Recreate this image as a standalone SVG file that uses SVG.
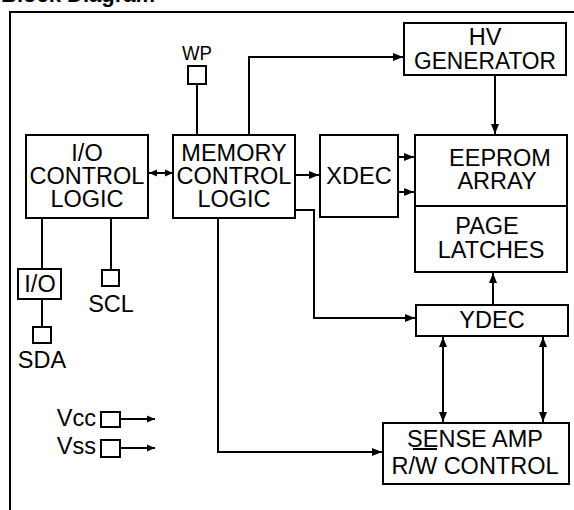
<svg xmlns="http://www.w3.org/2000/svg" width="574" height="510" viewBox="0 0 574 510">
<style>
.b{fill:#fff;stroke:#000;stroke-width:2}
.l{fill:none;stroke:#000;stroke-width:2}
text{font-family:"Liberation Sans",Arial,sans-serif;font-size:23.5px;fill:#000;text-anchor:middle}
.t{font-weight:bold;font-size:22px;text-anchor:start}
</style>
<defs>
<marker id="a" markerUnits="userSpaceOnUse" markerWidth="10" markerHeight="10" viewBox="0 0 10 10" refX="10" refY="5" orient="auto-start-reverse"><path d="M0,1 L10,5 L0,9 Z" fill="#000"/></marker>
<marker id="s" markerUnits="userSpaceOnUse" markerWidth="8" markerHeight="8" viewBox="0 0 8 8" refX="8" refY="4" orient="auto-start-reverse"><path d="M0,0.5 L8,4 L0,7.5 Z" fill="#000"/></marker>
</defs>
<text class="t" x="1" y="2">Block Diagram</text>
<path class="l" d="M10 510 V12 H574" stroke-width="2.5"/>
<g id="connectors">
<path class="l" d="M197 84 V135"/>
<path class="l" d="M249 135 V57 H403" marker-end="url(#a)"/>
<path class="l" d="M495 75 V134" marker-end="url(#a)"/>
<path class="l" d="M149 173 H173" marker-start="url(#s)" marker-end="url(#s)"/>
<path class="l" d="M295 175 H319" marker-end="url(#a)"/>
<path class="l" d="M295 210 H314 V318 H415" marker-end="url(#a)"/>
<path class="l" d="M398 157 H414" marker-end="url(#a)"/>
<path class="l" d="M398 192 H414" marker-end="url(#a)"/>
<path class="l" d="M493 305 V273" marker-end="url(#a)"/>
<path class="l" d="M443 337 V422" marker-start="url(#a)" marker-end="url(#a)"/>
<path class="l" d="M543 337 V422" marker-start="url(#a)" marker-end="url(#a)"/>
<path class="l" d="M218 218 V452 H382" marker-end="url(#a)"/>
<path class="l" d="M42 218 V269 M42 299 V327"/>
<path class="l" d="M111 218 V270"/>
<path class="l" d="M120 419 H155" marker-end="url(#s)"/>
<path class="l" d="M120 448 H155" marker-end="url(#s)"/>
</g>
<g id="wp"><text x="197" y="60" style="font-size:21px" textLength="30" lengthAdjust="spacingAndGlyphs">WP</text><rect class="b" x="188" y="66" width="18" height="18"/></g>
<g id="hv"><rect class="b" x="404" y="23" width="162" height="52"/><text x="485" y="45">HV</text><text x="485" y="69" textLength="142" lengthAdjust="spacingAndGlyphs">GENERATOR</text></g>
<g id="ioctl"><rect class="b" x="26" y="135" width="122" height="83"/><text x="87" y="161">I/O</text><text x="87" y="184">CONTROL</text><text x="87" y="207">LOGIC</text></g>
<g id="memctl"><rect class="b" x="173" y="135" width="122" height="83"/><text x="234" y="161">MEMORY</text><text x="234" y="184">CONTROL</text><text x="234" y="207">LOGIC</text></g>
<g id="xdec"><rect class="b" x="320" y="135" width="78" height="82"/><text x="359" y="184">XDEC</text></g>
<g id="eeprom"><rect class="b" x="415" y="135" width="152" height="137"/><path class="l" d="M415 206 H567"/><text x="500" y="166">EEPROM</text><text x="497" y="189">ARRAY</text><text x="487" y="234">PAGE</text><text x="491" y="258">LATCHES</text></g>
<g id="ydec"><rect class="b" x="416" y="305" width="152" height="31"/><text x="492" y="328">YDEC</text></g>
<g id="sense"><rect class="b" x="383" y="423" width="186" height="61"/><text x="475" y="447">SENSE AMP</text><text x="475" y="474">R/W CONTROL</text><path class="l" d="M413 449 H437"/></g>
<g id="io"><rect class="b" x="18" y="269" width="43" height="30"/><text x="40" y="292">I/O</text></g>
<g id="sda"><rect class="b" x="33" y="327" width="18" height="16"/><text x="42" y="368">SDA</text></g>
<g id="scl"><rect class="b" x="102" y="270" width="17" height="16"/><text x="111" y="312">SCL</text></g>
<g id="vcc"><text x="96" y="426" style="text-anchor:end">Vcc</text><rect class="b" x="101" y="412" width="19" height="15"/></g>
<g id="vss"><text x="96" y="454" style="text-anchor:end">Vss</text><rect class="b" x="101" y="440" width="19" height="17"/></g>
</svg>
